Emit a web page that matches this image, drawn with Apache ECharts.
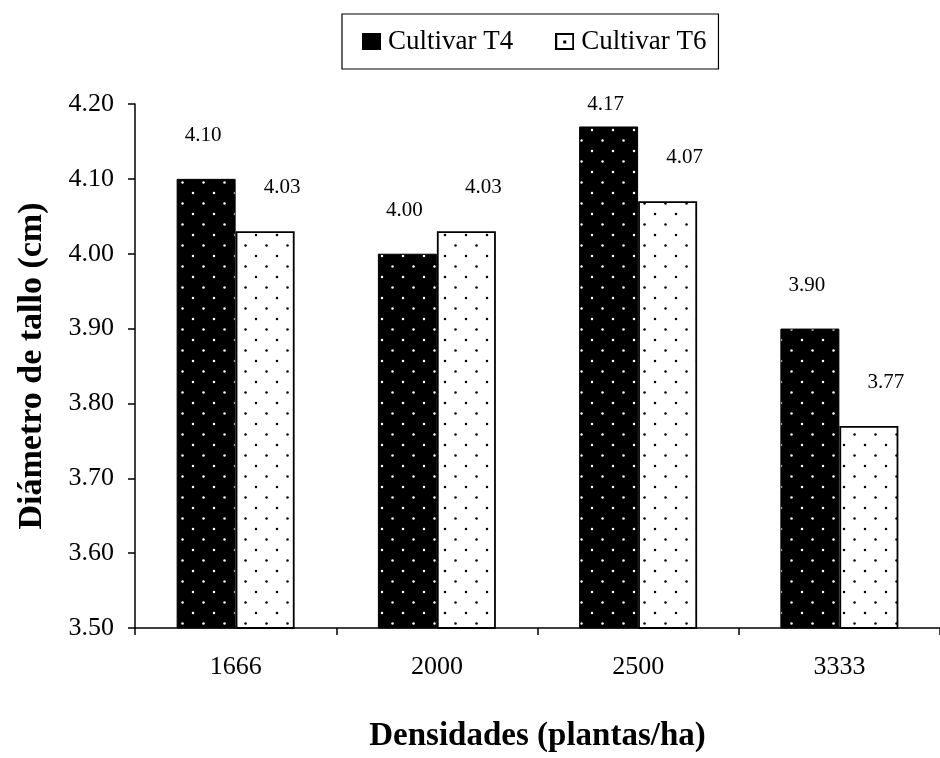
<!DOCTYPE html>
<html>
<head>
<meta charset="utf-8">
<script src="https://cdn.jsdelivr.net/npm/echarts@6/dist/echarts.min.js"></script>
<style>
  html, body { margin: 0; padding: 0; background: #fff; }
  #chart { width: 940px; height: 758px; }
</style>
</head>
<body>
<div id="chart"></div>
<script>
// Stem diameter by planting density for two cultivars
const categories = ['1666', '2000', '2500', '3333'];
const cultivarT4 = [4.10, 4.00, 4.17, 3.90];
const cultivarT6 = [4.03, 4.03, 4.07, 3.77];
const seriesNames = ['Cultivar T4', 'Cultivar T6'];
const yMin = 3.5, yMax = 4.2, yStep = 0.1;

const FONT = "'Liberation Serif', 'Times New Roman', serif";

// Dotted fill tile: staggered dots on a solid ground
function dotTile(ground, dot) {
  const c = document.createElement('canvas');
  c.width = 21; c.height = 21;
  const g = c.getContext('2d');
  g.fillStyle = ground;
  g.fillRect(0, 0, 21, 21);
  g.fillStyle = dot;
  [[4, 4], [14.5, 14.5]].forEach(function (p) {
    g.beginPath();
    g.arc(p[0], p[1], 1.25, 0, Math.PI * 2);
    g.fill();
  });
  return { image: c, repeat: 'repeat' };
}

// Legend swatches: solid dark square, and a light square with one dot
function swatch(dark) {
  const c = document.createElement('canvas');
  c.width = 19; c.height = 17;
  const g = c.getContext('2d');
  g.fillStyle = dark ? '#000' : '#fff';
  g.fillRect(0, 0, 19, 17);
  g.strokeStyle = '#000';
  g.lineWidth = 2;
  g.strokeRect(1, 1, 17, 15);
  if (!dark) {
    g.fillStyle = '#000';
    g.fillRect(8, 7.5, 3, 3);
  }
  return 'image://' + c.toDataURL();
}

const darkFill = dotTile('#000', '#fff');
const lightFill = dotTile('#fff', '#000');

// Labels near the top of the value range sit closer to their bars
function items(values) {
  return values.map(function (v) {
    return { value: v, label: { distance: v > 4.15 ? 11 : 33 } };
  });
}

const chart = echarts.init(document.getElementById('chart'), null, { renderer: 'canvas' });

chart.setOption({
  animation: false,
  backgroundColor: '#fff',
  textStyle: { fontFamily: FONT, color: '#000' },
  legend: {
    left: 342,
    top: 14,
    padding: [14, 12, 14, 20],
    borderColor: '#000',
    borderWidth: 1.2,
    itemWidth: 19,
    itemHeight: 17,
    itemGap: 42,
    textStyle: { fontFamily: FONT, fontSize: 27, color: '#000', padding: [0, 0, 0, 2] },
    data: [
      { name: seriesNames[0], icon: swatch(true) },
      { name: seriesNames[1], icon: swatch(false) }
    ]
  },
  grid: { left: 135, right: -8, top: 104, bottom: 128, containLabel: false },
  xAxis: {
    type: 'category',
    data: categories,
    boundaryGap: true,
    axisLine: { lineStyle: { color: '#000', width: 1.5 } },
    axisTick: { show: true, length: 7, alignWithLabel: false, lineStyle: { color: '#000', width: 1.5 } },
    axisLabel: { color: '#000', fontFamily: FONT, fontSize: 26, margin: 26 },
    splitLine: { show: false },
    name: 'Densidades (plantas/ha)',
    nameLocation: 'middle',
    nameGap: 92,
    nameTextStyle: { fontFamily: FONT, fontSize: 33, fontWeight: 'bold', color: '#000' }
  },
  yAxis: {
    type: 'value',
    min: yMin,
    max: yMax,
    interval: yStep,
    axisLine: { show: true, lineStyle: { color: '#000', width: 1.5 } },
    axisTick: { show: true, length: 7, lineStyle: { color: '#000', width: 1.5 } },
    axisLabel: {
      color: '#000', fontFamily: FONT, fontSize: 26, margin: 21,
      formatter: function (v) { return v.toFixed(2); }
    },
    splitLine: { show: false },
    name: 'Diámetro de tallo (cm)',
    nameLocation: 'middle',
    nameGap: 86,
    nameTextStyle: { fontFamily: FONT, fontSize: 34, fontWeight: 'bold', color: '#000' }
  },
  series: [
    {
      name: seriesNames[0],
      type: 'bar',
      data: items(cultivarT4),
      barWidth: 59,
      barGap: '0%',
      itemStyle: { color: darkFill, borderColor: '#000', borderWidth: 1 },
      label: {
        show: true, position: 'top', offset: [-3, 0],
        fontFamily: FONT, fontSize: 21, color: '#000',
        formatter: function (p) { return p.value.toFixed(2); }
      }
    },
    {
      name: seriesNames[1],
      type: 'bar',
      data: items(cultivarT6),
      barWidth: 59,
      barGap: '0%',
      itemStyle: { color: lightFill, borderColor: '#000', borderWidth: 1.8 },
      label: {
        show: true, position: 'top', offset: [17, 0],
        fontFamily: FONT, fontSize: 21, color: '#000',
        formatter: function (p) { return p.value.toFixed(2); }
      }
    }
  ]
});
</script>
</body>
</html>
